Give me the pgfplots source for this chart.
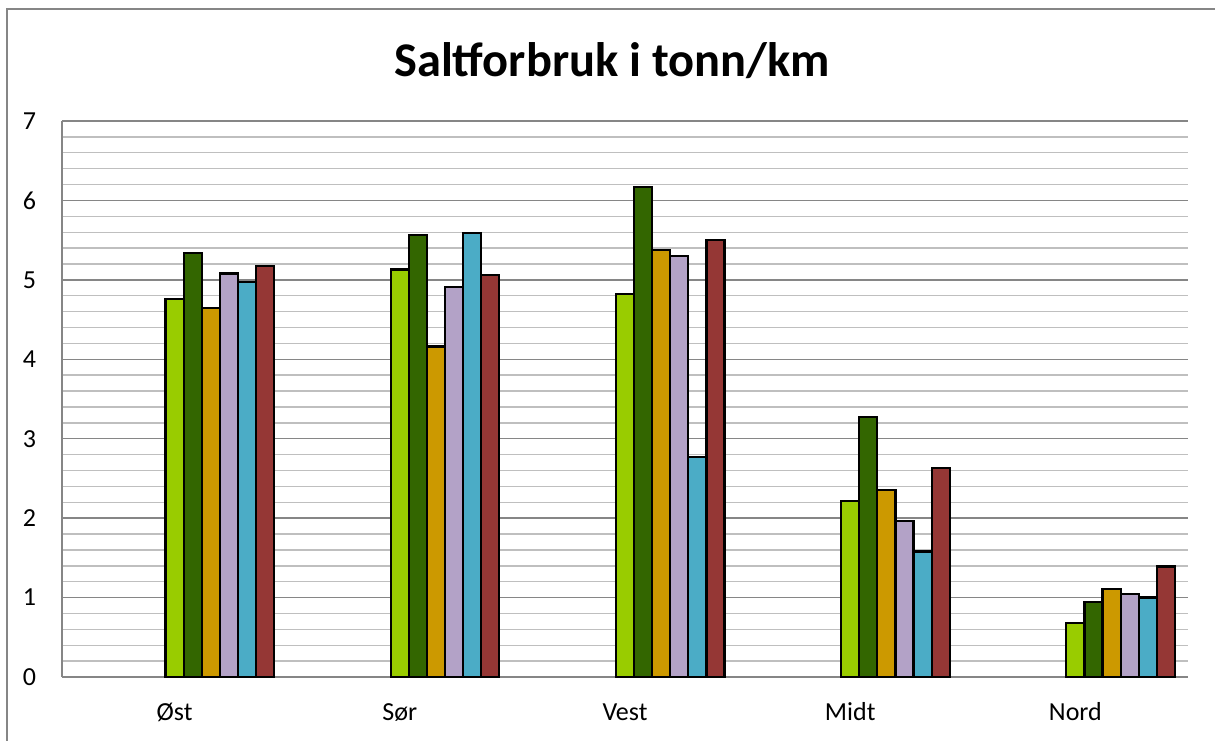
\documentclass[border=0pt]{standalone}
\usepackage{pgfplots}
\pgfplotsset{compat=1.18}
\usepackage{fontspec}
\setmainfont{Carlito}
\definecolor{cLG}{HTML}{99CC00}
\definecolor{cDG}{HTML}{336600}
\definecolor{cOR}{HTML}{CC9900}
\definecolor{cLV}{HTML}{B3A2C7}
\definecolor{cBL}{HTML}{4BACC6}
\definecolor{cRD}{HTML}{953735}
\definecolor{gMaj}{HTML}{868686}
\definecolor{gMin}{HTML}{BFBFBF}
\begin{document}
\begin{tikzpicture}
\useasboundingbox (-31pt,-31.5pt) rectangle (576.5pt,338.5pt);
\draw[gMaj, line width=1pt] (-27.5pt,-60pt) -- (-27.5pt,334pt) -- (620pt,334pt);
\begin{axis}[
  scale only axis,
  width=563pt, height=278pt,
  at={(0,0)}, anchor=south west,
  xmin=-0.5, xmax=4.5,
  ymin=0, ymax=7,
  ytick={0,1,...,7},
  minor y tick num=4,
  xtick={0,1,2,3,4},
  xticklabels={Øst,Sør,Vest,Midt,Nord},
  axis x line*=bottom,
  axis y line*=left,
  axis line style={gMaj, line width=1pt},
  major tick length=0pt, minor tick length=0pt,
  ymajorgrids, yminorgrids,
  major grid style={gMaj, line width=0.7pt},
  minor grid style={gMin, line width=0.7pt},
  /pgf/number format/assume math mode=true,
  tick label style={font=\fontsize{13}{15}\selectfont},
  yticklabel style={xshift=-9.5pt},
  xticklabel style={yshift=-10pt, text height=8.4pt, text depth=2.5pt},
  ybar, bar width=0.0804,
  every axis plot/.append style={draw=black, line width=1.1pt},
  axis on top=false,
]
\addplot[fill=cLG, bar shift=0] coordinates {(0,4.76) (1,5.13) (2,4.82) (3,2.22) (4,0.68)};
\addplot[fill=cDG, bar shift=0.0804] coordinates {(0,5.34) (1,5.56) (2,6.17) (3,3.27) (4,0.94)};
\addplot[fill=cOR, bar shift=0.1608] coordinates {(0,4.65) (1,4.16) (2,5.38) (3,2.35) (4,1.11)};
\addplot[fill=cLV, bar shift=0.2412] coordinates {(0,5.08) (1,4.91) (2,5.30) (3,1.96) (4,1.04)};
\addplot[fill=cBL, bar shift=0.3216] coordinates {(0,4.97) (1,5.59) (2,2.77) (3,1.58) (4,1.00)};
\addplot[fill=cRD, bar shift=0.4020] coordinates {(0,5.17) (1,5.06) (2,5.50) (3,2.63) (4,1.39)};
\end{axis}
\node[anchor=base, font=\bfseries\fontsize{24.2}{29}\selectfont] at (275pt,300pt) {Saltforbruk i tonn/km};
\end{tikzpicture}
\end{document}
